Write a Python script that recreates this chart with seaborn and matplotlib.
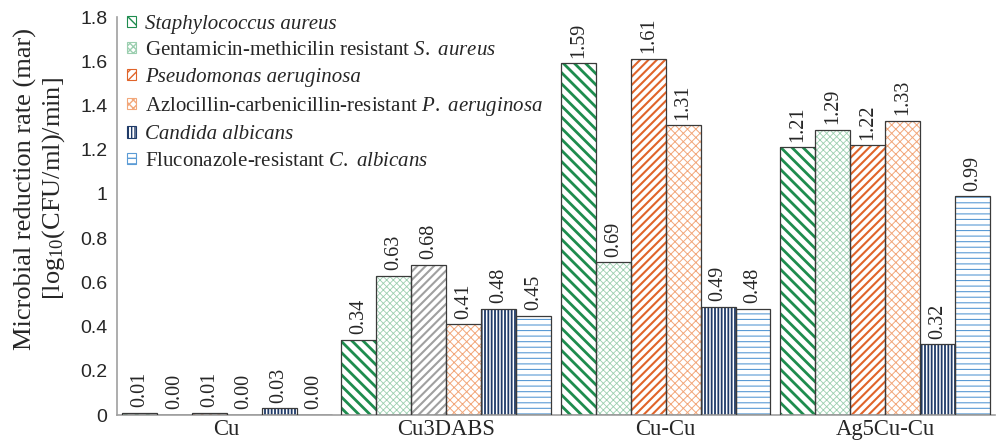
import matplotlib
matplotlib.use("Agg")
import matplotlib.pyplot as plt
from matplotlib.patches import Patch, Rectangle
import pandas as pd
import seaborn as sns

# data
materials = ['Cu', 'Cu3DABS', 'Cu-Cu', 'Ag5Cu-Cu']
strains = [
    'Staphylococcus aureus',
    'Gentamicin-methicilin resistant S. aureus',
    'Pseudomonas aeruginosa',
    'Azlocillin-carbenicillin-resistant P. aeruginosa',
    'Candida albicans',
    'Fluconazole-resistant C. albicans',
]
legend_labels = [
    'Staphylococcus aureus',
    r'Gentamicin-methicilin resistant $\it{S.}$ $\it{aureus}$',
    'Pseudomonas aeruginosa',
    r'Azlocillin-carbenicillin-resistant $\it{P.}$ $\it{aeruginosa}$',
    'Candida albicans',
    r'Fluconazole-resistant $\it{C.}$ $\it{albicans}$',
]
italic_entries = [0, 2, 4]
s_aureus = [0.01, 0.34, 1.59, 1.21]
gm_s_aureus = [0.00, 0.63, 0.69, 1.29]
p_aeruginosa = [0.01, 0.68, 1.61, 1.22]
ac_p_aeruginosa = [0.00, 0.41, 1.31, 1.33]
c_albicans = [0.03, 0.48, 0.49, 0.32]
fr_c_albicans = [0.00, 0.45, 0.48, 0.99]
series = [s_aureus, gm_s_aureus, p_aeruginosa, ac_p_aeruginosa, c_albicans, fr_c_albicans]

rows = []
for strain, vals in zip(strains, series):
    for mat, v in zip(materials, vals):
        rows.append({'material': mat, 'strain': strain, 'rate': v})
df = pd.DataFrame(rows)

# hatch style per strain
hatch_colors = ['#1e8c4e', '#9ccfb0', '#e0642a', '#f2a77a', '#1f3a68', '#5b9bd5']
hatches = ['\\\\\\', 'xxxxx', '////', 'xxxx', '|||||', '---']
hatch_lw = [2.0, 0.6, 1.5, 0.7, 1.3, 0.8]

sns.set_style('white')
plt.rcParams['font.family'] = ['Liberation Serif', 'DejaVu Serif']
plt.rcParams['mathtext.fontset'] = 'custom'
plt.rcParams['mathtext.rm'] = 'Liberation Serif'
plt.rcParams['mathtext.it'] = 'Liberation Serif:italic'

fig = plt.figure(figsize=(10.01, 4.42), dpi=100)
ax = fig.add_axes([0.1169, 0.061, 0.877, 0.9005])

sns.barplot(data=df, x='material', y='rate', hue='strain', order=materials,
            hue_order=strains, palette=['white'] * 6, width=0.955, gap=0,
            errorbar=None, legend=False, ax=ax)

for i, cont in enumerate(ax.containers):
    for j, p in enumerate(cont.patches):
        col = hatch_colors[i]
        # the Cu3DABS Pseudomonas bar is drawn in grey in the original
        if i == 2 and j == 1:
            col = '#a0a0a0'
        p.set_facecolor('white')
        p.set_edgecolor(col)
        p.set_linewidth(0)
        p.set_hatch(hatches[i])
        if hasattr(p, 'set_hatch_linewidth'):
            p.set_hatch_linewidth(hatch_lw[i])
        ax.add_patch(Rectangle(p.get_xy(), p.get_width(), p.get_height(),
                               fill=False, edgecolor='#3a3a3a', lw=0.9, zorder=3))
    ax.bar_label(cont, fmt='%.2f', rotation=90, padding=4, fontsize=14.5)

ax.set_ylim(0, 1.8)
ax.set_xlim(-0.5, 3.5)
ax.set_yticks([0, 0.2, 0.4, 0.6, 0.8, 1.0, 1.2, 1.4, 1.6, 1.8])
ax.set_yticklabels(['0', '0.2', '0.4', '0.6', '0.8', '1', '1.2', '1.4', '1.6', '1.8'],
                   family='Liberation Sans', fontsize=14)
ax.set_xticks(range(4))
ax.set_xticklabels(materials, fontsize=16.3)
ax.set_xticks([-0.5, 0.5, 1.5, 2.5, 3.5], minor=True)
ax.tick_params(axis='x', which='major', length=0, pad=3)
ax.tick_params(axis='x', which='minor', length=5, color='#a0a0a0', width=1)
ax.tick_params(axis='y', length=4, color='#a0a0a0', width=1, pad=3)
ax.set_xlabel('')
ax.set_ylabel('Microbial reduction rate (mar)\n[log$_{10}$(CFU/ml)/min]',
              fontsize=19, linespacing=1.15)
ax.yaxis.set_label_coords(-0.057, 0.568)

sns.despine(ax=ax)
for side in ['left', 'bottom']:
    ax.spines[side].set_color('#a0a0a0')
    ax.spines[side].set_linewidth(1.2)

handles = []
for i in range(6):
    h = Patch(facecolor='white', edgecolor=hatch_colors[i], hatch=hatches[i], lw=0)
    handles.append(h)
leg = ax.legend(handles, legend_labels, loc='upper left', bbox_to_anchor=(0.002, 1.027),
                frameon=False, fontsize=15, handlelength=0.45, handleheight=0.45,
                handletextpad=0.4, labelspacing=0.37, borderaxespad=0)
for h in leg.legend_handles:
    h.set_linewidth(0.8)
for i in italic_entries:
    leg.get_texts()[i].set_fontstyle('italic')

plt.savefig('out.png', dpi=100)
plt.close()
